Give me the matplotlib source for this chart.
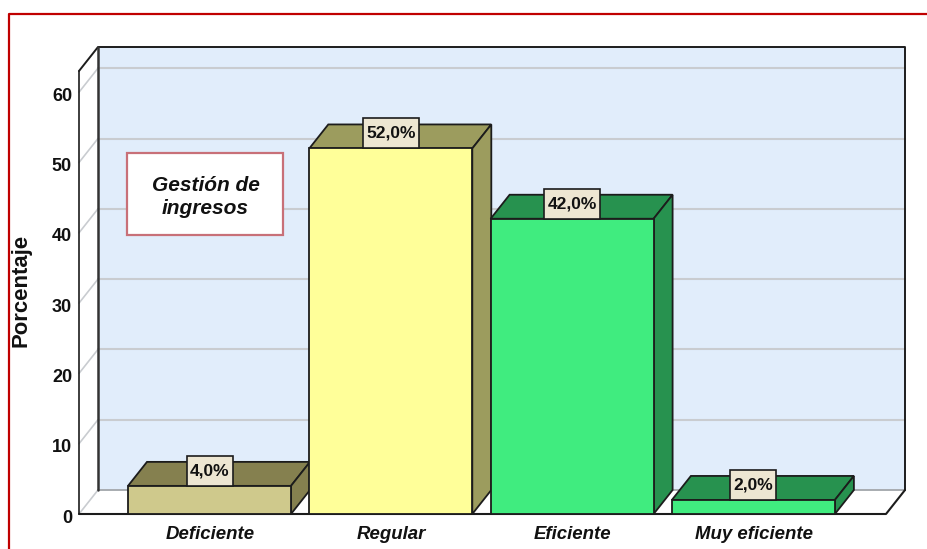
"""
Percentage bars with a fake 3D box (SPSS style). Everything is drawn on one
axes whose data limits are the front plane of the box.
"""

import matplotlib
matplotlib.use("Agg")
import matplotlib.pyplot as plt
from matplotlib.lines import Line2D
from matplotlib.patches import Polygon, Rectangle

# Data
categories = ["Deficiente", "Regular", "Eficiente", "Muy eficiente"]
values = [4.0, 52.0, 42.0, 2.0]
value_labels = ["4,0%", "52,0%", "42,0%", "2,0%"]
y_ticks = [0, 10, 20, 30, 40, 50, 60]

# Styles
front_colors = ["#cfc98c", "#ffff99", "#40ec7f", "#40ec7f"]
shade_colors = ["#85804f", "#9c9c5e", "#27924f", "#27924f"]
WALL = "#e1edfb"
GRID = "#c9ccd0"
DARK = "#1c1c1c"
RED = "#c00000"
FONT = "Liberation Sans"

W, H = 927, 549
# front plane of the box in pixels
LEFT, RIGHT, BOTTOM, TOP = 79, 886, 514, 71
PX_X = 181.3      # pixels per category
PX_Y = 7.03       # pixels per percent
DX = 19 / PX_X    # depth of the box in data units
DY = 24 / PX_Y
BAR_W = 163 / PX_X

fig = plt.figure(figsize=(W / 100, H / 100), dpi=100)
ax = fig.add_axes([LEFT / W, 1 - BOTTOM / H, (RIGHT - LEFT) / W, (BOTTOM - TOP) / H])
x0 = -(209.5 - LEFT) / PX_X
x1 = x0 + (RIGHT - LEFT) / PX_X
y1 = (BOTTOM - TOP) / PX_Y
ax.set_xlim(x0, x1)
ax.set_ylim(0, y1)
ax.axis("off")


def line(xs, ys, color=DARK, lw=1.4, z=2):
    ax.add_line(Line2D(xs, ys, color=color, lw=lw, zorder=z, clip_on=False,
                       solid_capstyle="round"))


# Walls and floor
ax.add_patch(Polygon([(x0 + DX, DY), (x1 + DX, DY), (x1 + DX, y1 + DY), (x0 + DX, y1 + DY)],
                     facecolor=WALL, edgecolor="none", zorder=1, clip_on=False))
for t in y_ticks[1:]:
    line([x0 + DX, x1 + DX], [t + DY, t + DY], GRID, 1.5)
for t in y_ticks:
    line([x0, x0 + DX], [t, t + DY], GRID, 1.2)
line([x0 + DX, x1 + DX], [DY, DY], "#a8acb0", 1.4)
line([x0, x0 + DX, x1 + DX, x1 + DX], [y1, y1 + DY, y1 + DY, DY], DARK, 1.4)
line([x0 + DX, x0 + DX], [DY, y1 + DY], "#333333", 1.8)
line([x0, x0], [0, y1], DARK, 1.2)
line([x0, x1, x1 + DX], [0, 0, DY], DARK, 1.5)

# Bars: front, top and side faces, drawn left to right so they overlap
for i, v in enumerate(values):
    a, b = i - BAR_W / 2, i + BAR_W / 2
    ax.add_patch(Polygon([(a, v), (b, v), (b + DX, v + DY), (a + DX, v + DY)],
                         facecolor=shade_colors[i], edgecolor=DARK, lw=1.3, zorder=3 + i,
                         clip_on=False))
    ax.add_patch(Polygon([(b, 0), (b + DX, DY), (b + DX, v + DY), (b, v)],
                         facecolor=shade_colors[i], edgecolor=DARK, lw=1.3, zorder=3 + i,
                         clip_on=False))
    ax.add_patch(Rectangle((a, 0), BAR_W, v, facecolor=front_colors[i], edgecolor=DARK,
                           lw=1.3, zorder=3 + i, clip_on=False))

# Value labels sit on the top edge of each bar
for i, v in enumerate(values):
    box_w = (10 * len(value_labels[i]) + 6) / PX_X
    box_h = 30 / PX_Y
    ax.add_patch(Rectangle((i - box_w / 2, v), box_w, box_h, facecolor="#ede6d2",
                           edgecolor=DARK, lw=1.2, zorder=10, clip_on=False))
    ax.text(i, v + box_h / 2 + 1.5 / PX_Y, value_labels[i], ha="center", va="center_baseline",
            fontsize=12.5, fontweight="bold", family=FONT, color="#111111", zorder=11)

# Axis texts
for t in y_ticks:
    ax.annotate(str(t), xy=(x0, t), xytext=(-5, -3), textcoords="offset points", ha="right",
                va="center", fontsize=13, fontweight="bold", family=FONT, color="#111111",
                annotation_clip=False)
for i, name in enumerate(categories):
    ax.annotate(name, xy=(i, 0), xytext=(0.5, -14.5), textcoords="offset points", ha="center",
                va="center", fontsize=13.4, fontweight="bold", style="italic", family=FONT,
                color="#111111", annotation_clip=False)
fig.text(21 / W, 1 - 290 / H, "Porcentaje", rotation=90, ha="center", va="center",
         fontsize=15.9, fontweight="bold", family=FONT, color="#111111")

# Legend-like note
ax.add_patch(Rectangle((-(209.5 - 127) / PX_X, (BOTTOM - 235) / PX_Y), 156 / PX_X, 82 / PX_Y,
                       facecolor="white", edgecolor="#c87078", lw=1.6, zorder=2.5))
ax.text(-(209.5 - 205.5) / PX_X, (BOTTOM - 197) / PX_Y, "Gestión de\ningresos", ha="center",
        va="center", fontsize=15, fontweight="bold", style="italic", family=FONT,
        color="#111111", zorder=2.6, linespacing=1.27)

# Red frame of the original page
fig.add_artist(Line2D([8.5 / W, 8.5 / W, 1], [0, 1 - 13.5 / H, 1 - 13.5 / H],
                      color=RED, lw=1.6, transform=fig.transFigure))

fig.savefig("out.png", dpi=100)
plt.close(fig)
